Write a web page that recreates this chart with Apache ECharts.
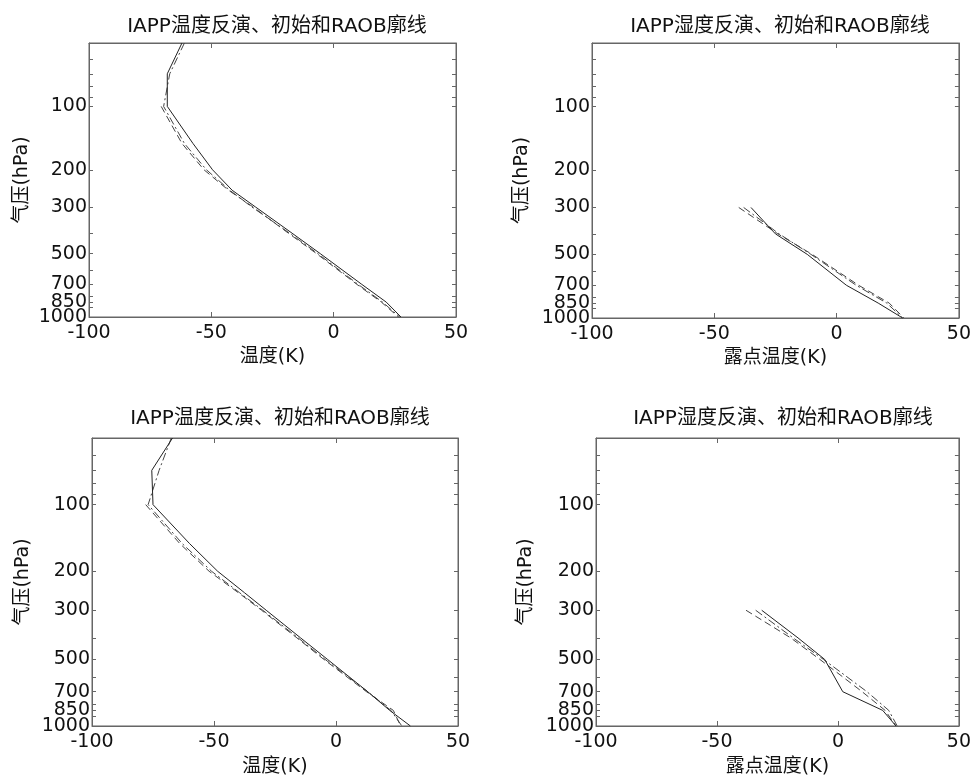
<!DOCTYPE html>
<html>
<head>
<meta charset="utf-8">
<script src="https://cdn.jsdelivr.net/npm/echarts@6/dist/echarts.min.js"></script>
<style>
html,body{margin:0;padding:0;background:#fff;}
#chart{width:974px;height:778px;}
</style>
</head>
<body>
<div id="chart"></div>
<script>
// ---------- data ----------
var titleTemp = 'IAPP温度反演、初始和RAOB廓线';
var titleHum = 'IAPP湿度反演、初始和RAOB廓线';
var xNameTemp = '温度(K)';
var xNameHum = '露点温度(K)';
var yName = '气压(hPa)';

var xTicks = [-100, -50, 0, 50];
// pressure tick labels 100,200,300,500,700,850,1000 (split over two label layers
// because 700/850/1000 sit very close together)
var yLabelTicksA = [100, 200, 300, 500, 850];
var yLabelTicksB = [700, 1000];
var yMinorTicks = [60, 70, 80, 90, 100, 200, 300, 400, 500, 600, 700, 800, 850, 900, 1000];

// temperature profile levels (hPa)
var levelsT = [50, 70, 100, 150, 200, 250, 300, 400, 500, 700, 850, 1000];
// top-left panel
var tl_solid   = [-62, -68, -68, -57.5, -49.5, -41.5, -32, -17, -5.5, 11.5, 21.5, 27.5];
var tl_dashed  = [null, null, -70.5, -62, -53, -43, -33, -18.5, -7, 9.5, 19.5, 26.5];
var tl_dashdot = [-61, -67, -69.5, -61, -52, -42.5, -33.5, -18, -6.5, 10, 20, 27];
// bottom-left panel
var bl_solid   = [-67, -75.5, -75, -60, -48.5, -37.5, -28.6, -14.5, -3.5, 13, 22, 30.5];
var bl_dashed  = [null, null, -78, -64, -52, -40, -30.5, -16, -5, 12.5, 23.5, 26.5];
var bl_dashdot = [-67.5, -72.5, -77, -63, -51, -39.5, -30, -15.5, -4.5, 13, 22.5, 27];

// dew point profile levels (hPa)
var levelsH = [300, 400, 500, 700, 850, 1000];
// top-right panel
var tr_solid   = [-35, -25, -12, 4, 17, 27];
var tr_dashed  = [-40, -24, -10, 9, 21.5, 27.5];
var tr_dashdot = [-38, -23.5, -10.5, 8, 20.5, 27];
// bottom-right panel
var br_solid   = [-31.5, -16.5, -5.5, 2, 18.5, 24];
var br_dashed  = [-38, -19.5, -7.5, 10, 19.5, 24];
var br_dashdot = [-34, -18.5, -6, 12, 21, 24.5];

// ---------- chart ----------
var FONT = 'DejaVu Sans, "Noto Sans CJK SC", sans-serif';
var AXC = '#666';
var TXT = '#111';

function pairs(vals, levels) {
  var out = [];
  for (var i = 0; i < vals.length; i++) {
    if (vals[i] !== null) out.push([vals[i], levels[i]]);
  }
  return out;
}

var panels = [
  {grid: {left: 89, top: 43, width: 367, height: 274}, title: titleTemp, tx: 272, ty: 12, xName: xNameTemp, levels: levelsT, s: [tl_solid, tl_dashed, tl_dashdot], yGap: 57, xGap: 31},
  {grid: {left: 592, top: 43, width: 367, height: 275}, title: titleHum, tx: 775, ty: 12, xName: xNameHum, levels: levelsH, s: [tr_solid, tr_dashed, tr_dashdot], yGap: 60, xGap: 31},
  {grid: {left: 92, top: 438, width: 366, height: 288}, title: titleTemp, tx: 275, ty: 404, xName: xNameTemp, levels: levelsT, s: [bl_solid, bl_dashed, bl_dashdot], yGap: 59, xGap: 32},
  {grid: {left: 596, top: 438, width: 366, height: 289}, title: titleHum, tx: 778, ty: 404, xName: xNameHum, levels: levelsH, s: [br_solid, br_dashed, br_dashdot], yGap: 60, xGap: 32}
];

var option = {
  backgroundColor: '#fff',
  animation: false,
  title: [], grid: [], xAxis: [], yAxis: [], series: []
};

var lineStyles = [
  {type: 'solid', color: '#222', width: 1},
  {type: [7, 4], color: '#444', width: 1},
  {type: [8, 3, 2, 3], color: '#444', width: 1}
];
var seriesNames = ['RAOB', '初始', '反演'];

panels.forEach(function (p, i) {
  option.title.push({
    text: p.title, left: p.tx, top: p.ty, textAlign: 'center',
    textStyle: {fontFamily: FONT, fontSize: 20, fontWeight: 'normal', color: TXT}
  });
  option.grid.push(Object.assign({show: true, borderColor: AXC, borderWidth: 1, backgroundColor: 'transparent'}, p.grid));
  var xBase = {
    type: 'value', gridIndex: i, min: -100, max: 50, interval: 50,
    axisLine: {show: true, onZero: false, lineStyle: {color: AXC, width: 1}},
    axisTick: {show: true, inside: true, length: 5, lineStyle: {color: AXC}},
    splitLine: {show: false}
  };
  option.xAxis.push(Object.assign({}, xBase, {
    position: 'bottom',
    name: p.xName, nameLocation: 'middle', nameGap: p.xGap,
    nameTextStyle: {fontFamily: FONT, fontSize: 19, color: TXT},
    axisLabel: {show: true, margin: 7, showMinLabel: true, showMaxLabel: true, hideOverlap: false,
      fontFamily: FONT, fontSize: 19, color: TXT, formatter: function (v) { return String(v); }}
  }));
  option.xAxis.push(Object.assign({}, xBase, {position: 'top', axisLabel: {show: false}}));

  var yBase = {
    type: 'log', logBase: 10, gridIndex: i, min: 50, max: 1000, inverse: true,
    axisLine: {show: true, onZero: false, lineStyle: {color: AXC, width: 1}},
    axisTick: {show: true, inside: true, length: 4, customValues: yMinorTicks, lineStyle: {color: AXC}},
    splitLine: {show: false}, minorTick: {show: false}
  };
  var yLabelStyle = {fontFamily: FONT, fontSize: 19, color: TXT, margin: 2,
    showMinLabel: true, showMaxLabel: true, hideOverlap: false,
    formatter: function (v) { return String(Math.round(v)); }};
  option.yAxis.push(Object.assign({}, yBase, {
    position: 'left',
    name: yName, nameLocation: 'middle', nameGap: p.yGap, nameRotate: 90,
    nameTextStyle: {fontFamily: FONT, fontSize: 19, color: TXT},
    axisLabel: Object.assign({show: true, customValues: yLabelTicksA}, yLabelStyle)
  }));
  option.yAxis.push(Object.assign({}, yBase, {position: 'right', axisLabel: {show: false}}));
  option.yAxis.push(Object.assign({}, yBase, {
    position: 'left', offset: 0,
    axisLine: {show: false}, axisTick: {show: false},
    axisLabel: Object.assign({show: true, customValues: yLabelTicksB}, yLabelStyle)
  }));

  p.s.forEach(function (vals, k) {
    option.series.push({
      name: seriesNames[k], type: 'line',
      xAxisIndex: i * 2, yAxisIndex: i * 3,
      data: pairs(vals, p.levels),
      showSymbol: false, symbol: 'none', smooth: false,
      lineStyle: lineStyles[k], z: 3 - k
    });
  });
});

var chart = echarts.init(document.getElementById('chart'), null, {renderer: 'canvas'});
chart.setOption(option);
</script>
</body>
</html>
